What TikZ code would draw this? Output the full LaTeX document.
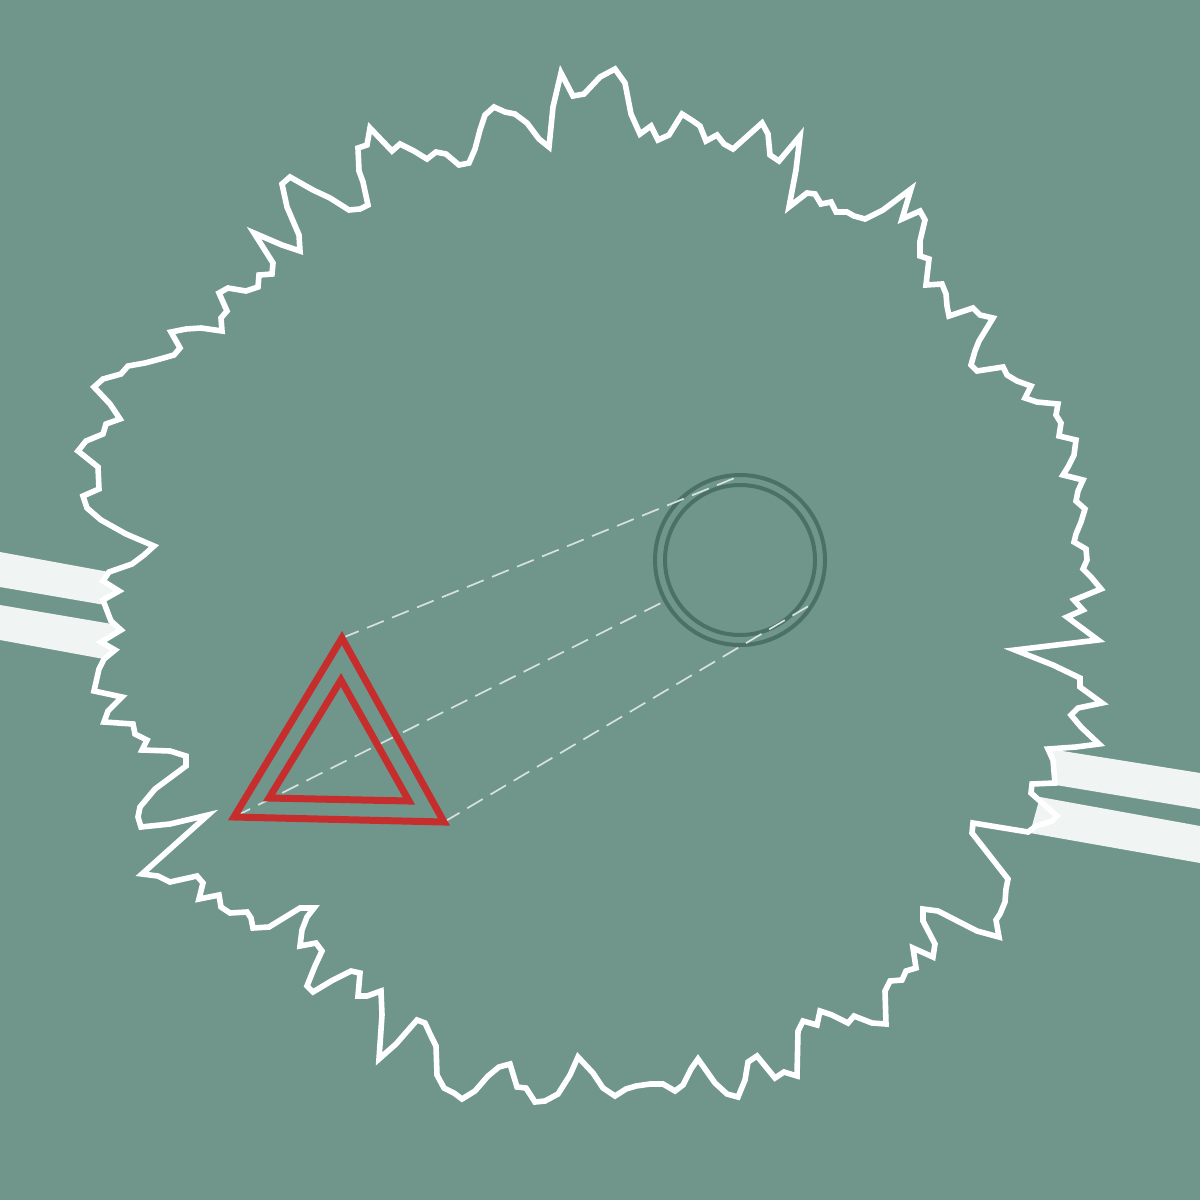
\documentclass[tikz,border=0pt]{standalone}
\usepackage{tikz}
\usepackage{xcolor}
\usetikzlibrary{calc}
\definecolor{sage}{RGB}{112,150,140}
\definecolor{ringgreen}{RGB}{75,113,103}
\definecolor{flare}{RGB}{198,46,46}
\definecolor{plank}{RGB}{240,244,243}
\definecolor{beamgrey}{RGB}{214,226,221}

\begin{document}
\begin{tikzpicture}[x=1pt, y=-1pt,
  rim/.style={draw=white, line width=5.6pt, line join=miter},
  warn/.style={draw=flare, line width=7pt, line join=miter},
  ring/.style={draw=ringgreen, line width=4pt},
  beam/.style={draw=beamgrey, line width=1.7pt, dash pattern=on 18pt off 9pt}]
% Background
\useasboundingbox (0,0) rectangle (1200,1200);
\fill[sage] (0,0) rectangle (1200,1200);
% Planks on both sides
\fill[plank] (0,552) -- (109,572) -- (103,581) -- (119,591) -- (103,600) -- (105,605) -- (0,587) -- cycle;
\fill[plank] (0,605) -- (112,624) -- (121,630) -- (101,642) -- (115,650) -- (104,659) -- (0,640) -- cycle;
\fill[plank] (1050,749) -- (1200,773) -- (1200,809) -- (1056,785) -- cycle;
\fill[plank] (1040,797) -- (1200,826) -- (1200,863) -- (1030,833) -- cycle;
% Jagged rim
\draw[rim] (561,73) -- (573,96) -- (584,94) -- (600,77) -- (615,69) -- (625,83) -- (631,114) -- (640,134)
  -- (651,126) -- (658,140) -- (669,135) -- (682,114) -- (693,121) -- (700,126) -- (706,141) -- (717,135)
  -- (724,144) -- (733,149) -- (762,123) -- (768,134) -- (770,155) -- (779,161) -- (800,136) -- (796,170)
  -- (789,207) -- (807,193) -- (815,194) -- (821,204) -- (831,202) -- (836,212) -- (847,212) -- (854,216)
  -- (865,219) -- (883,210) -- (911,189) -- (902,219) -- (920,211) -- (925,220) -- (920,241) -- (920,256)
  -- (929,259) -- (926,285) -- (942,284) -- (946,294) -- (947,306) -- (949,316) -- (973,308) -- (980,315)
  -- (993,318) -- (979,341) -- (975,351) -- (971,365) -- (977,371) -- (1003,367) -- (1007,375) -- (1017,381)
  -- (1031,386) -- (1025,398) -- (1037,402) -- (1058,404) -- (1056,415) -- (1061,423) -- (1059,436)
  -- (1076,440) -- (1074,455) -- (1068,467) -- (1063,475) -- (1083,480) -- (1078,491) -- (1076,501)
  -- (1085,509) -- (1081,522) -- (1076,534) -- (1074,542) -- (1086,549) -- (1087,560) -- (1083,569)
  -- (1091,577) -- (1101,589) -- (1074,600) -- (1083,610) -- (1067,617) -- (1098,640) -- (1015,650)
  -- (1053,665) -- (1080,678) -- (1080,687) -- (1102,703) -- (1078,708) -- (1071,715) -- (1081,727)
  -- (1099,744) -- (1076,747) -- (1048,749) -- (1053,760) -- (1055,783) -- (1032,784) -- (1031,793)
  -- (1057,816) -- (1052,821) -- (1036,826) -- (1028,832) -- (973,823) -- (972,833) -- (1008,879)
  -- (1006,889) -- (1005,902) -- (1000,914) -- (996,920) -- (999,937) -- (977,931) -- (938,911)
  -- (923,909) -- (923,921) -- (935,944) -- (933,957) -- (913,948) -- (916,968) -- (906,971) -- (902,980)
  -- (890,981) -- (885,991) -- (886,1024) -- (872,1023) -- (854,1016) -- (848,1023) -- (832,1015)
  -- (820,1011) -- (817,1025) -- (803,1021) -- (798,1031) -- (797,1076) -- (784,1072) -- (775,1078)
  -- (757,1056) -- (748,1062) -- (745,1080) -- (738,1097) -- (727,1094) -- (715,1083) -- (698,1059)
  -- (691,1069) -- (683,1085) -- (675,1091) -- (663,1084) -- (650,1084) -- (636,1086) -- (626,1089)
  -- (615,1096) -- (603,1088) -- (593,1073) -- (578,1057) -- (570,1075) -- (558,1094) -- (545,1101)
  -- (535,1102) -- (526,1088) -- (517,1087) -- (510,1064) -- (499,1067) -- (488,1076) -- (475,1091)
  -- (462,1099) -- (454,1093) -- (444,1088) -- (437,1075) -- (436,1046) -- (431,1036) -- (425,1023)
  -- (417,1020) -- (396,1044) -- (379,1059) -- (382,1015) -- (381,991) -- (367,996) -- (358,996)
  -- (360,973) -- (351,971) -- (333,980) -- (313,992) -- (307,986) -- (315,966) -- (322,951) -- (316,943)
  -- (300,946) -- (302,930) -- (307,917) -- (314,908) -- (300,908) -- (269,927) -- (253,928) -- (251,918)
  -- (247,912) -- (230,913) -- (221,907) -- (219,895) -- (199,899) -- (203,883) -- (197,876) -- (170,882)
  -- (158,876) -- (142,874) -- (208,815) -- (170,824) -- (141,827) -- (138,817) -- (140,807) -- (155,789)
  -- (186,766) -- (186,756) -- (170,751) -- (142,750) -- (147,740) -- (135,734) -- (133,724) -- (104,722)
  -- (108,711) -- (122,697) -- (94,691) -- (99,669) -- (104,659) -- (115,650) -- (101,642) -- (121,630)
  -- (111,621) -- (106,608) -- (103,600) -- (119,591) -- (103,581) -- (109,572) -- (132,564) -- (144,555)
  -- (154,546) -- (126,534) -- (101,520) -- (87,508) -- (83,496) -- (99,489) -- (98,467) -- (78,451)
  -- (86,441) -- (103,434) -- (106,424) -- (120,419) -- (110,404) -- (94,387) -- (103,379) -- (121,374)
  -- (128,366) -- (145,363) -- (160,359) -- (174,355) -- (180,348) -- (171,332) -- (186,329) -- (201,328)
  -- (222,331) -- (221,318) -- (227,311) -- (219,293) -- (228,288) -- (246,291) -- (258,287) -- (259,275)
  -- (272,274) -- (273,263) -- (254,233) -- (282,245) -- (300,251) -- (299,235) -- (287,207) -- (282,184)
  -- (290,177) -- (313,190) -- (330,198) -- (349,210) -- (360,209) -- (368,205) -- (363,182) -- (359,171)
  -- (358,148) -- (367,145) -- (370,128) -- (392,151) -- (400,144) -- (414,151) -- (427,159) -- (436,152)
  -- (446,154) -- (459,165) -- (469,163) -- (475,149) -- (480,130) -- (485,115) -- (494,107) -- (505,112)
  -- (515,114) -- (527,123) -- (539,139) -- (549,147) -- (553,107) -- cycle;
% Lens and its rim points
\coordinate (lens) at (740,560);
\draw[ring] (lens) circle (85);
\draw[ring] (lens) circle (75);
\coordinate (lensTop) at (742,475);
\coordinate (lensLeft) at (665,601);
\coordinate (lensRight) at (812,604);
% Warning triangle corners
\coordinate (apex) at (342,638);
\coordinate (baseL) at (234,817);
\coordinate (baseR) at (444,822);
% Projection lines
\draw[beam] (apex) -- (lensTop);
\draw[beam] (baseL) -- (lensLeft);
\draw[beam] (baseR) -- (lensRight);
% Draw warning triangle
\draw[warn] (apex) -- (baseR) -- (baseL) -- cycle;
\draw[warn] (341,680) -- (409,801) -- (269,798) -- cycle;
\end{tikzpicture}
\end{document}
